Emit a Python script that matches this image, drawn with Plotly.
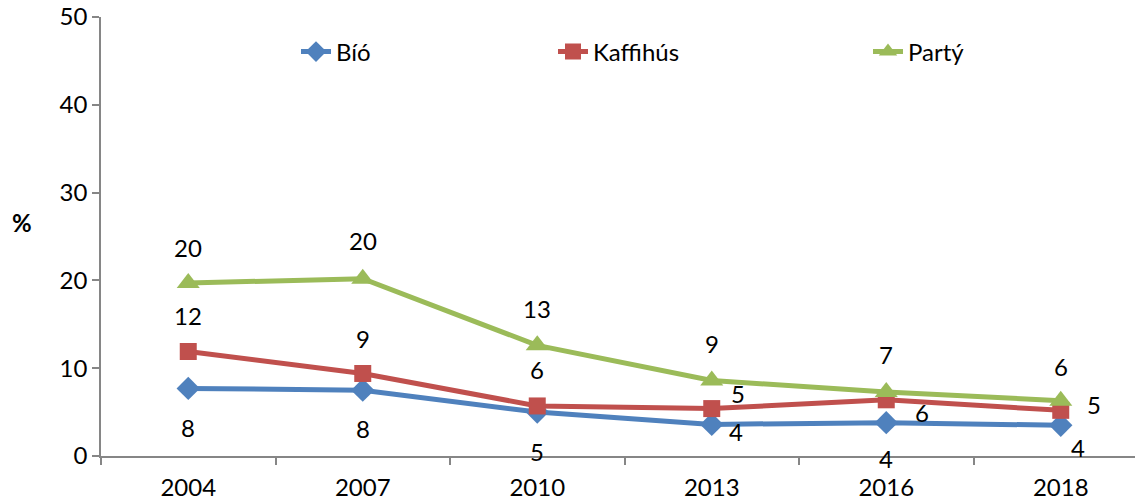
import plotly.graph_objects as go

years = ["2004", "2007", "2010", "2013", "2016", "2018"]
bio = [7.7, 7.5, 5.0, 3.6, 3.8, 3.5]
kaffihus = [11.9, 9.4, 5.7, 5.4, 6.4, 5.2]
party = [19.7, 20.2, 12.6, 8.6, 7.3, 6.3]
y_ticks = [0, 10, 20, 30, 40, 50]

FONT = "Lato"
FS = 24
W, H = 1143, 503
OFF = 8  # page body margin offset
# plot area in screen pixels: x 101..1148, y 17..456
L = 101 - OFF
T = 17 - OFF
B = H - (456 - OFF)
R = W - (1148 - OFF)
PW, PH = W - L - R, H - T - B


def px_x(px):
    return (px - OFF - L) / PW


def px_y(py):
    return (H - B - (py - OFF)) / PH


series = [
    ("Bíó", bio, "#4F81BD", "diamond", 18, "legend"),
    ("Kaffihús", kaffihus, "#C0504D", "square", 17, "legend2"),
    ("Partý", party, "#9BBB59", "triangle-up", 20, "legend3"),
]

# label offsets (xshift, yshift) per point
offsets = {
    "Bíó": [(0, -39), (0, -38), (0, -39), (24, -7), (0, -36), (17, -22)],
    "Kaffihús": [(0, 36), (0, 35), (0, 36), (26, 15), (36, -13), (33, 6)],
    "Partý": [(0, 36), (0, 38), (0, 37), (0, 37), (0, 37), (0, 34)],
}

fig = go.Figure()
annotations = []
for name, vals, color, sym, msize, leg in series:
    fig.add_trace(go.Scatter(
        x=years, y=vals, name=name, mode="lines+markers",
        line=dict(color=color, width=5),
        marker=dict(symbol=sym, size=msize, color=color, line=dict(width=0)),
        legend=leg, cliponaxis=False,
    ))
    for i, v in enumerate(vals):
        dx, dy = offsets[name][i]
        annotations.append(dict(
            x=i, y=v, xref="x", yref="y", text=str(int(v + 0.5)),
            showarrow=False, xshift=dx, yshift=dy,
            font=dict(family=FONT, size=FS, color="#000000"),
        ))

annotations.append(dict(
    x=px_x(22), y=px_y(222), xref="paper", yref="paper", text="<b>%</b>",
    showarrow=False, xanchor="center", yanchor="middle",
    font=dict(family=FONT, size=FS, color="#000000"),
))

leg_common = dict(
    orientation="h", xref="paper", yref="paper", xanchor="left",
    yanchor="middle", bgcolor="rgba(0,0,0,0)", borderwidth=0,
    font=dict(family=FONT, size=FS, color="#000000"),
)
fig.update_layout(
    width=W, height=H,
    margin=dict(l=L, r=R, t=T, b=B, autoexpand=False),
    paper_bgcolor="white", plot_bgcolor="white",
    font=dict(family=FONT, size=FS, color="#000000"),
    showlegend=True,
    legend=dict(x=px_x(296), y=px_y(52), **leg_common),
    legend2=dict(x=px_x(553), y=px_y(52), **leg_common),
    legend3=dict(x=px_x(868), y=px_y(52), **leg_common),
    annotations=annotations,
    xaxis=dict(
        type="category", range=[-0.5, 5.5],
        showline=True, linecolor="#868686", linewidth=1.5,
        ticks="outside", tickson="boundaries", ticklen=7, tickcolor="#868686",
        tickwidth=1.5, showgrid=False, zeroline=False, ticklabelstandoff=9,
        tickfont=dict(family=FONT, size=FS, color="#000000"),
    ),
    yaxis=dict(
        range=[0, 50], tickvals=y_ticks, ticklabeloverflow="allow",
        showline=True, linecolor="#868686", linewidth=1.5,
        ticks="outside", ticklen=7, tickcolor="#868686", tickwidth=1.5,
        showgrid=False, zeroline=False,
        tickfont=dict(family=FONT, size=FS, color="#000000"),
    ),
)

fig.write_html("out.html")
